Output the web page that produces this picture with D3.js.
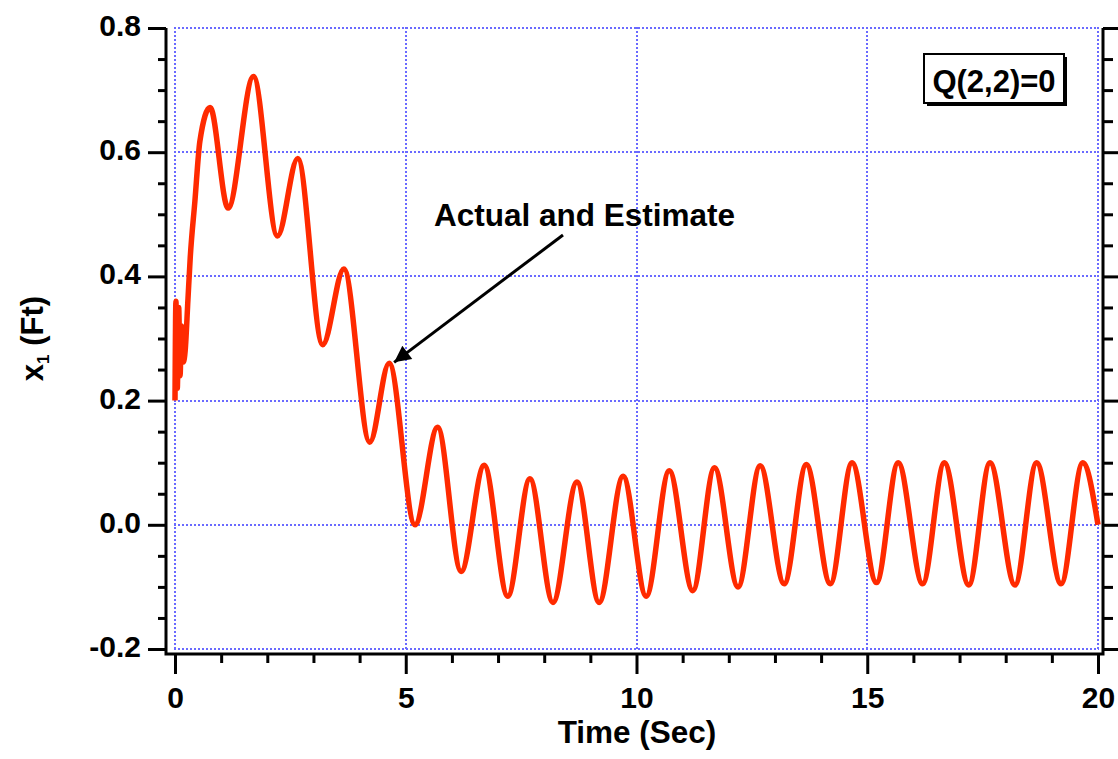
<!DOCTYPE html>
<html>
<head>
<meta charset="utf-8">
<script src="https://cdn.jsdelivr.net/npm/d3@7"></script>
<style>
  html, body { margin: 0; padding: 0; background: #ffffff; }
  svg { display: block; }
  text { font-family: "Liberation Sans", Arial, Helvetica, sans-serif; font-weight: bold; fill: #000; }
</style>
</head>
<body>
<svg id="chart" width="1118" height="759"></svg>
<script>
// ---- data ----
const timeSec = [
  0.00, 0.02, 0.05, 0.08, 0.11, 0.14, 0.18, 0.22, 0.28, 0.33, 0.43, 0.54,
  0.76, 1.15, 1.70, 2.22, 2.66, 3.20, 3.66, 4.22, 4.64, 5.20, 5.69, 6.20,
  6.70, 7.21, 7.69, 8.19, 8.71, 9.19, 9.71, 10.21, 10.71, 11.22, 11.69, 12.20,
  12.68, 13.20, 13.68, 14.20, 14.67, 15.20, 15.67, 16.20, 16.67, 17.20, 17.66, 18.20,
  18.67, 19.20, 19.67, 20.00
];
const positionFt = [
  0.200, 0.360, 0.220, 0.350, 0.240, 0.320, 0.262, 0.280, 0.362, 0.430, 0.520, 0.618,
  0.672, 0.510, 0.722, 0.465, 0.590, 0.290, 0.412, 0.133, 0.260, 0.000, 0.157, -0.075,
  0.096, -0.115, 0.074, -0.125, 0.069, -0.125, 0.078, -0.115, 0.087, -0.106, 0.092, -0.100,
  0.095, -0.095, 0.097, -0.095, 0.100, -0.093, 0.100, -0.095, 0.100, -0.097, 0.100, -0.097,
  0.100, -0.095, 0.100, 0.000
];
const xTickValues = [0, 5, 10, 15, 20];
const xTickLabels = ["0", "5", "10", "15", "20"];
const yTickValues = [-0.2, 0.0, 0.2, 0.4, 0.6, 0.8];
const yTickLabels = ["-0.2", "0.0", "0.2", "0.4", "0.6", "0.8"];
const xMinorValues = [1, 2, 3, 4, 6, 7, 8, 9, 11, 12, 13, 14, 16, 17, 18, 19];
const yMinorValues = [-0.15, -0.1, -0.05, 0.05, 0.1, 0.15, 0.25, 0.3, 0.35, 0.45, 0.5, 0.55, 0.65, 0.7, 0.75];
const xLabel = "Time (Sec)";
const annotationText = "Actual and Estimate";
const annotationPoint = [4.64, 0.26];
const legendText = "Q(2,2)=0";

// ---- layout ----
const svg = d3.select("#chart");
const plotLeft = 175, plotRight = 1098, plotTop = 28, plotBottom = 649;
const axisLeftX = 166, axisRightX = 1103, axisBottomY = 654;

const x = d3.scaleLinear().domain([0, 20]).range([plotLeft, plotRight]);
const y = d3.scaleLinear().domain([-0.2, 0.8]).range([plotBottom, plotTop]);

const gridColor = "#6a6aff";

// grid
const grid = svg.append("g").attr("shape-rendering", "crispEdges");
grid.selectAll("line.gx").data(xTickValues).enter().append("line")
  .attr("x1", d => Math.round(x(d))).attr("x2", d => Math.round(x(d)))
  .attr("y1", plotTop - 1).attr("y2", plotBottom + 1)
  .attr("stroke", gridColor).attr("stroke-width", 2).attr("stroke-dasharray", "2,2");
grid.selectAll("line.gy").data(yTickValues).enter().append("line")
  .attr("y1", d => Math.round(y(d))).attr("y2", d => Math.round(y(d)))
  .attr("x1", plotLeft - 1).attr("x2", plotRight + 1)
  .attr("stroke", gridColor).attr("stroke-width", 2).attr("stroke-dasharray", "2,2");

// data line
const series = timeSec.map((t, i) => [t, positionFt[i]]);
const line = d3.line().x(d => x(d[0])).y(d => y(d[1])).curve(d3.curveMonotoneX);
svg.append("path").datum(series)
  .attr("d", line)
  .attr("fill", "none")
  .attr("stroke", "#ff2a00")
  .attr("stroke-width", 5.5)
  .attr("stroke-linejoin", "round");

// axes
function styleAxis(g, w) {
  g.select(".domain").remove();
  g.selectAll(".tick line").attr("stroke", "#000").attr("stroke-width", w);
  g.selectAll(".tick text").attr("font-size", 30).attr("font-weight", "bold")
    .attr("font-family", "'Liberation Sans', Arial, Helvetica, sans-serif").attr("fill", "#000");
}

// left
svg.append("g").attr("transform", `translate(${axisLeftX},0)`)
  .call(d3.axisLeft(y).tickValues(yMinorValues).tickSize(8).tickFormat(""))
  .call(g => styleAxis(g, 3));
svg.append("g").attr("transform", `translate(${axisLeftX},0)`)
  .call(d3.axisLeft(y).tickValues(yTickValues).tickSize(18).tickPadding(7)
    .tickFormat((d, i) => yTickLabels[i]))
  .call(g => styleAxis(g, 3))
  .call(g => g.selectAll(".tick text").attr("dy", "0.25em"));

// right
svg.append("g").attr("transform", `translate(${axisRightX},0)`)
  .call(d3.axisRight(y).tickValues(yMinorValues).tickSize(10).tickFormat(""))
  .call(g => styleAxis(g, 3));
svg.append("g").attr("transform", `translate(${axisRightX},0)`)
  .call(d3.axisRight(y).tickValues(yTickValues).tickSize(16).tickFormat(""))
  .call(g => styleAxis(g, 3));

// bottom
svg.append("g").attr("transform", `translate(0,${axisBottomY})`)
  .call(d3.axisBottom(x).tickValues(xMinorValues).tickSize(9).tickFormat(""))
  .call(g => styleAxis(g, 3));
svg.append("g").attr("transform", `translate(0,${axisBottomY})`)
  .call(d3.axisBottom(x).tickValues(xTickValues).tickSize(20).tickPadding(13)
    .tickFormat((d, i) => xTickLabels[i]))
  .call(g => styleAxis(g, 3));

// axis lines
svg.append("path")
  .attr("d", `M${axisLeftX},${plotTop}V${axisBottomY}H${axisRightX}V${plotTop}`)
  .attr("fill", "none").attr("stroke", "#000").attr("stroke-width", 3)
  .attr("stroke-linejoin", "miter");

// axis titles
svg.append("text")
  .attr("x", 637).attr("y", 743)
  .attr("text-anchor", "middle").attr("font-size", 31.5)
  .text(xLabel);

const yl = svg.append("text")
  .attr("transform", `translate(43,${(plotTop + plotBottom) / 2}) rotate(-90)`)
  .attr("text-anchor", "middle").attr("font-size", 31);
yl.append("tspan").text("x");
yl.append("tspan").attr("font-size", 17).attr("dy", 6).text("1");
yl.append("tspan").attr("dy", -6).text(" (Ft)");

// annotation
svg.append("defs").append("marker")
  .attr("id", "arrow").attr("viewBox", "0 0 10 10")
  .attr("refX", 10).attr("refY", 5)
  .attr("markerWidth", 6.5).attr("markerHeight", 5.5)
  .attr("markerUnits", "strokeWidth")
  .attr("orient", "auto")
  .append("path").attr("d", "M0,0L10,5L0,10Z").attr("fill", "#000");

svg.append("line")
  .attr("x1", 563).attr("y1", 235)
  .attr("x2", x(annotationPoint[0]) + 5).attr("y2", y(annotationPoint[1]) - 1)
  .attr("stroke", "#000").attr("stroke-width", 3)
  .attr("marker-end", "url(#arrow)");

svg.append("text")
  .attr("x", 434).attr("y", 226)
  .attr("font-size", 31.5)
  .text(annotationText);

// legend box
const lg = svg.append("g").attr("transform", "translate(924,54)");
lg.append("rect").attr("x", 3).attr("y", 3).attr("width", 140).attr("height", 49).attr("fill", "#000");
lg.append("rect").attr("x", 0).attr("y", 0).attr("width", 140).attr("height", 49)
  .attr("fill", "#fff").attr("stroke", "#000").attr("stroke-width", 2);
lg.append("text").attr("x", 70).attr("y", 38).attr("text-anchor", "middle")
  .attr("font-size", 31).text(legendText);
</script>
</body>
</html>
